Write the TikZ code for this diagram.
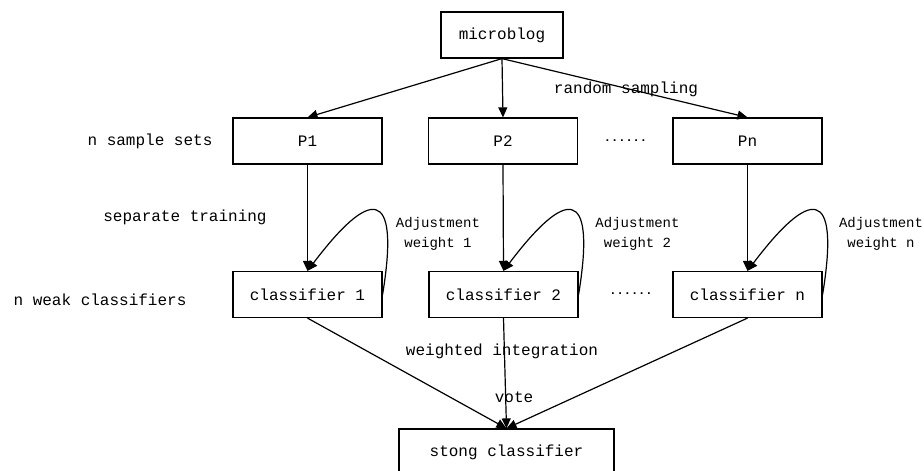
\documentclass[tikz,border=0pt]{standalone}
\usepackage{fontspec}
\setmainfont{Liberation Mono}
\usetikzlibrary{arrows.meta}

\begin{document}
\begin{tikzpicture}[x=1pt,y=-1pt,font=\fontsize{16}{20}\selectfont,
  box/.style={draw,line width=1.2pt,minimum height=46pt,inner sep=0pt},
  arr/.style={-{Triangle[length=10pt,width=9pt]},line width=1.2pt},
  adj/.style={align=center,font=\fontsize{14}{20}\selectfont},
  dots/.style={font=\fontsize{12}{14}\selectfont\bfseries}]
\useasboundingbox (0,0) rectangle (924,471);
%source%
\node[box,minimum width=122pt] (microblog) at (502,35) {microblog};
%sample sets%
\node[box,minimum width=149pt] (p1) at (307.5,141) {P1};
\node[box,minimum width=149pt] (p2) at (503,141) {P2};
\node[box,minimum width=149pt] (pn) at (747.5,141) {Pn};
%weak classifiers%
\node[box,minimum width=149pt] (c1) at (307.5,294.5) {classifier 1};
\node[box,minimum width=149pt] (c2) at (503.5,294.5) {classifier 2};
\node[box,minimum width=149pt] (cn) at (747.5,294.5) {classifier n};
%strong classifier%
\node[box,minimum width=215pt] (strong) at (506.5,452) {stong classifier};
%labels%
\node (lsets) at (150,141) {n sample sets};
\node (ltrain) at (185,217) {separate training};
\node (lweak) at (100,300) {n weak classifiers};
\node (lsampling) at (626,89) {random sampling};
\node[dots] (dotsp) at (625.5,141) {......};
\node[dots] (dotsc) at (631,294) {......};
\node (lweighted) at (502,351) {weighted integration};
\node (lvote) at (514,397) {vote};
\node[adj] (ladj1) at (438,234) {Adjustment\\weight 1};
\node[adj] (ladj2) at (637.5,234) {Adjustment\\weight 2};
\node[adj] (ladjn) at (881,234) {Adjustment\\weight n};
%arrows%
\draw[arr] (microblog.south) -- (p1.north);
\draw[arr] (microblog.south) -- (p2.north);
\draw[arr] (microblog.south) -- (pn.north);
\draw[arr] (p1.south) -- (c1.north);
\draw[arr] (p2.south) -- (c2.north);
\draw[arr] (pn.south) -- (cn.north);
\draw[arr] (c1.east) .. controls +(18,-110) and +(62,-82) .. (c1.north);
\draw[arr] (c2.east) .. controls +(18,-110) and +(62,-82) .. (c2.north);
\draw[arr] (cn.east) .. controls +(18,-110) and +(62,-82) .. (cn.north);
\draw[arr] (c1.south) -- (strong.north);
\draw[arr] (c2.south) -- (strong.north);
\draw[arr] (cn.south) -- (strong.north);
\end{tikzpicture}
\end{document}
